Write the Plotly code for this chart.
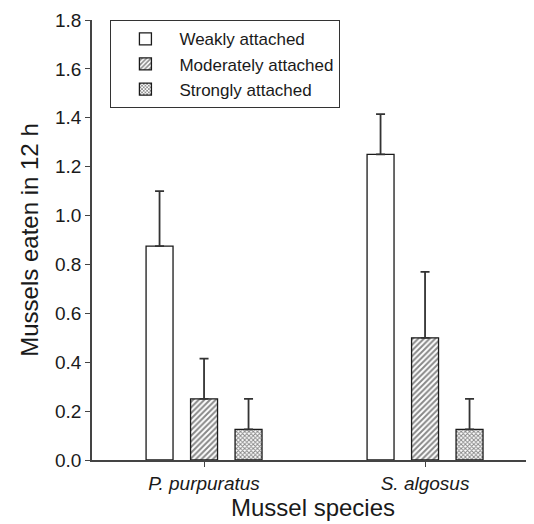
import plotly.graph_objects as go

species = ["P. purpuratus", "S. algosus"]
series_names = ["Weakly attached", "Moderately attached", "Strongly attached"]
weakly = [0.875, 1.25]
weakly_err = [0.225, 0.165]
moderately = [0.25, 0.50]
moderately_err = [0.165, 0.27]
strongly = [0.125, 0.125]
strongly_err = [0.125, 0.125]
y_ticks = [0.0, 0.2, 0.4, 0.6, 0.8, 1.0, 1.2, 1.4, 1.6, 1.8]

FONT = "Liberation Sans, Arial, Helvetica, sans-serif"
INK = "#1a1a1a"
x_pos = list(range(len(species)))

values = [weakly, moderately, strongly]
errors = [weakly_err, moderately_err, strongly_err]
patterns = [
    dict(shape="", bgcolor="white"),
    dict(shape="/", bgcolor="white", fgcolor="#111111", size=4, solidity=0.5),
    dict(shape="x", bgcolor="white", fgcolor="#111111", size=3, solidity=0.55),
]

fig = go.Figure()
for name, vals, errs, pat in zip(series_names, values, errors, patterns):
    fig.add_trace(go.Bar(
        x=x_pos, y=vals, name=name,
        marker=dict(color="white", pattern=pat,
                    line=dict(color=INK, width=1.3)),
        error_y=dict(type="data", array=errs, arrayminus=[0] * len(errs),
                     symmetric=False, color="#333333", thickness=1.8, width=4.5),
    ))

fig.update_layout(
    width=526, height=516,
    margin=dict(l=84, r=0, t=12, b=64),
    paper_bgcolor="white", plot_bgcolor="white",
    barmode="group", bargap=0.396, bargroupgap=0.394,
    font=dict(family=FONT, color=INK, size=19),
    showlegend=True,
    legend=dict(
        x=0.041, y=1.0, xanchor="left", yanchor="top",
        bordercolor="#333333", borderwidth=1.3, bgcolor="white",
        font=dict(size=17, family=FONT, color=INK),
        tracegroupgap=0, itemwidth=58,
    ),
    xaxis=dict(
        range=[-0.507, 1.493], tickmode="array", tickvals=x_pos,
        ticktext=[f"<i>{s}</i>" for s in species],
        ticks="outside", ticklen=5, tickwidth=1.3, tickcolor="#444444",
        showline=True, linecolor="#444444", linewidth=1.5,
        showgrid=False, zeroline=False,
        tickfont=dict(size=19),
        title=dict(text="Mussel species", font=dict(size=24), standoff=6),
    ),
    yaxis=dict(
        range=[0, 1.8], tickmode="array", tickvals=y_ticks,
        tickformat=".1f",
        ticks="outside", ticklen=5, tickwidth=1.3, tickcolor="#444444",
        showline=True, linecolor="#444444", linewidth=1.5,
        showgrid=False, zeroline=False,
        tickfont=dict(size=19),
        title=dict(text="Mussels eaten in 12 h", font=dict(size=24), standoff=10),
    ),
)

fig.write_html("out.html")
